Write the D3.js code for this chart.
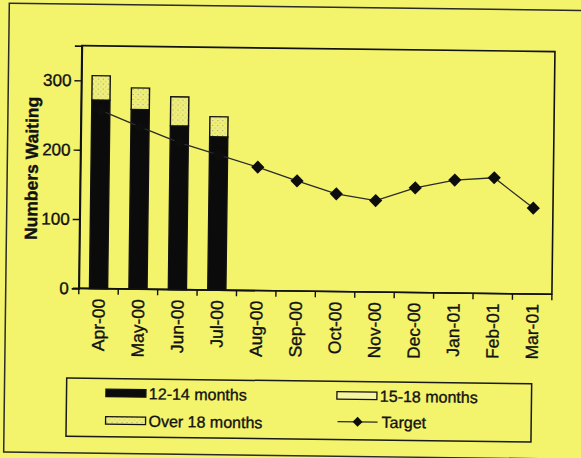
<!DOCTYPE html>
<html>
<head>
<meta charset="utf-8">
<script src="https://cdn.jsdelivr.net/npm/d3@7"></script>
<style>
  html, body { margin: 0; padding: 0; background: #f3f36c; }
  svg { display: block; }
  text { font-family: "Liberation Sans", Arial, sans-serif; fill: #111; stroke: #111; stroke-width: 0.35px; }
</style>
</head>
<body>
<svg id="chart" width="581" height="458"></svg>
<script>
// Months on the category axis
const months = ["Apr-00","May-00","Jun-00","Jul-00","Aug-00","Sep-00",
                "Oct-00","Nov-00","Dec-00","Jan-01","Feb-01","Mar-01"];
// Patients waiting, by length of wait (actuals for Apr-Jul 2000)
const wait12to14 = [272, 259, 236, 221];
const wait15to18 = [0, 0, 0, 0];
const waitOver18 = [35, 31, 42, 29];
// Planned waiting-list target for the whole year
const target = [257, 234, 212, 195, 178, 159, 141, 132, 151, 163, 167, 124];
// Value axis
const yTicks = [0, 100, 200, 300];
const yMax = 350;
// Legend entries
const seriesNames = ["12-14 months", "15-18 months", "Over 18 months", "Target"];

const W = 581, H = 458;
const bg = "#f3f36c";
const svg = d3.select("#chart");

svg.append("rect").attr("width", W).attr("height", H).attr("fill", bg);

// Stipple fill for the longest waits
const defs = svg.append("defs");
const pat = defs.append("pattern").attr("id", "stipple")
  .attr("patternUnits", "userSpaceOnUse").attr("width", 5).attr("height", 5);
pat.append("rect").attr("width", 5).attr("height", 5).attr("fill", "#eeee78");
pat.append("rect").attr("x", 1).attr("y", 1).attr("width", 1).attr("height", 1).attr("fill", "#9c9c78");
pat.append("rect").attr("x", 3.5).attr("y", 3.5).attr("width", 1).attr("height", 1).attr("fill", "#b4b488");

// The sheet sits very slightly askew on the page
const root = svg.append("g").attr("transform", "rotate(0.72, 290, 229)");

// Outer chart border
root.append("rect")
  .attr("x", 6.5).attr("y", 6.8).attr("width", 600).attr("height", 448.8)
  .attr("fill", "none").attr("stroke", "#2a2a2a").attr("stroke-width", 1.5);

const plot = { left: 79.6, right: 552.7, top: 48.3, bottom: 291 };

const x = d3.scaleBand().domain(months).range([plot.left, plot.right]);
const y = d3.scaleLinear().domain([0, yMax]).range([plot.bottom, plot.top]);
const barW = x.bandwidth() * 0.46;

// Plot-area frame
root.append("rect")
  .attr("x", plot.left).attr("y", plot.top)
  .attr("width", plot.right - plot.left).attr("height", plot.bottom - plot.top)
  .attr("fill", "none").attr("stroke", "#111").attr("stroke-width", 1.6);

// Stacked bars
const stackRows = wait12to14.map((v, i) => ({
  month: months[i], a: v, b: wait15to18[i], c: waitOver18[i]
}));
const stack = d3.stack().keys(["a", "b", "c"])(stackRows);
const fills = { a: "#0b0b0b", b: "#f6f6a0", c: "url(#stipple)" };
stack.forEach(layer => {
  root.append("g").selectAll("rect")
    .data(layer.filter(d => d[1] > d[0]))
    .join("rect")
    .attr("x", d => x(d.data.month) + (x.bandwidth() - barW) / 2)
    .attr("width", barW)
    .attr("y", d => y(d[1]))
    .attr("height", d => y(d[0]) - y(d[1]))
    .attr("fill", fills[layer.key])
    .attr("stroke", "#111").attr("stroke-width", 1.4);
});

// Target line with diamond markers
const cx = m => x(m) + x.bandwidth() / 2;
const line = d3.line().x((d, i) => cx(months[i])).y(d => y(d));
root.append("path").datum(target)
  .attr("d", line).attr("fill", "none")
  .attr("stroke", "#2a2a2a").attr("stroke-width", 1.3);
const diamond = r => `M0,${-r}L${r},0L0,${r}L${-r},0Z`;
root.append("g").selectAll("path").data(target).join("path")
  .attr("transform", (d, i) => `translate(${cx(months[i])},${y(d)})`)
  .attr("d", diamond(6.6)).attr("fill", "#0d0d0d");

// Value axis
const yAxis = root.append("g")
  .attr("transform", `translate(${plot.left},0)`)
  .call(d3.axisLeft(y).tickValues(yTicks).tickSize(7).tickPadding(3).tickFormat(d3.format("d")));
yAxis.select(".domain").attr("stroke", "#111").attr("stroke-width", 1.6);
yAxis.selectAll(".tick line").attr("stroke", "#111").attr("stroke-width", 1.4);
yAxis.selectAll("text").attr("font-size", 17).attr("fill", "#111")
  .style("font-family", "'Liberation Sans', Arial, sans-serif");

// Category axis: ticks between months, labels turned upright
const xAxis = root.append("g").attr("transform", `translate(0,${plot.bottom})`);
xAxis.append("line")
  .attr("x1", plot.left - 6).attr("x2", plot.right)
  .attr("stroke", "#111").attr("stroke-width", 1.6);
const bounds = months.map(m => x(m)).concat([x.range()[1]]);
xAxis.selectAll("line.tk").data(bounds).join("line").attr("class", "tk")
  .attr("x1", d => d).attr("x2", d => d).attr("y1", 0).attr("y2", 6)
  .attr("stroke", "#111").attr("stroke-width", 1.4);
xAxis.selectAll("text").data(months).join("text")
  .attr("transform", d => `translate(${cx(d)},0) rotate(-90)`)
  .attr("x", -10).attr("dy", "0.36em")
  .attr("text-anchor", "end").attr("font-size", 17.5)
  .text(d => d);

// Value axis title
root.append("text")
  .attr("transform", `translate(37,${(plot.top + plot.bottom) / 2 + 2}) rotate(-90)`)
  .attr("text-anchor", "middle").attr("font-size", 17.5).attr("font-weight", "bold")
  .text("Numbers Waiting");

// Legend
const lg = root.append("g");
lg.append("rect").attr("x", 68.6).attr("y", 380.8).attr("width", 465).attr("height", 58.2)
  .attr("fill", "none").attr("stroke", "#1a1a1a").attr("stroke-width", 1.5);
const legendPos = [
  { x: 108, y: 395.5 }, { x: 339, y: 395 },
  { x: 108, y: 423 },   { x: 340, y: 421 }
];
const legendFill = [fills.a, fills.b, fills.c, null];
seriesNames.forEach((name, i) => {
  const p = legendPos[i];
  const item = lg.append("g").attr("transform", `translate(${p.x},${p.y})`);
  if (legendFill[i]) {
    item.append("rect").attr("x", 0).attr("y", -4).attr("width", 40).attr("height", 7.5)
      .attr("fill", legendFill[i]).attr("stroke", "#111").attr("stroke-width", 1.3);
  } else {
    item.append("line").attr("x1", 0).attr("x2", 40)
      .attr("stroke", "#2a2a2a").attr("stroke-width", 1.3);
    item.append("path").attr("transform", "translate(20,0)")
      .attr("d", diamond(5)).attr("fill", "#0d0d0d");
  }
  item.append("text").attr("x", i === 3 ? 44 : 43).attr("y", 0).attr("dy", "0.35em")
    .attr("font-size", 16).text(name);
});
</script>
</body>
</html>
